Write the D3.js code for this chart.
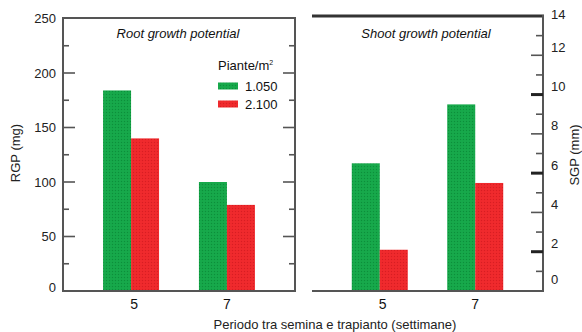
<!DOCTYPE html>
<html>
<head>
<meta charset="utf-8">
<script src="https://cdn.jsdelivr.net/npm/d3@7"></script>
<style>
  html, body { margin: 0; padding: 0; background: #fff; }
  svg { display: block; font-family: "Liberation Sans", Arial, sans-serif; }
</style>
</head>
<body>
<svg id="chart" width="582" height="332"></svg>
<script>
// ---- data ----
const categories = ["5", "7"];
const seriesNames = ["1.050", "2.100"];
const rgp1050 = [184, 100];
const rgp2100 = [140, 79];
const sgp1050 = [6.5, 9.5];
const sgp2100 = [2.1, 5.5];
const rgpTicks = [0, 50, 100, 150, 200, 250];
const sgpTicks = [0, 2, 4, 6, 8, 10, 12, 14];

const frameColor = "#555";

const svg = d3.select("#chart");

// patterns for dotted fill
const defs = svg.append("defs");
function pat(id, base, dot) {
  const p = defs.append("pattern").attr("id", id).attr("patternUnits", "userSpaceOnUse")
    .attr("width", 3).attr("height", 3);
  p.append("rect").attr("width", 3).attr("height", 3).attr("fill", base);
  p.append("circle").attr("cx", 1.5).attr("cy", 1.5).attr("r", 0.7).attr("fill", dot);
}
pat("pg", "#17a94b", "#0c8f3a");
pat("pr", "#f02a2d", "#d81d22");
const fills = { "1.050": "url(#pg)", "2.100": "url(#pr)" };

// ---- layout ----
const L = { x0: 63, x1: 295 };
const R = { x0: 312, x1: 543 };
const yTop = 18, yBot = 291;

const yL = d3.scaleLinear().domain([0, 250]).range([yBot, 18.5]);
const yR = d3.scaleLinear().domain([0, 14]).range([yBot, 16]);

const xL = d3.scalePoint().domain(categories).range([L.x0, L.x1]).padding(0.71);
const xR = d3.scalePoint().domain(categories).range([R.x0, R.x1]).padding(0.71);
const barW = 28;
const xSub = d3.scaleBand().domain(seriesNames).range([-barW, barW]);

function drawBars(x, y, s1, s2) {
  const rows = [];
  categories.forEach((c, i) => {
    rows.push({ c, s: seriesNames[0], v: s1[i] });
    rows.push({ c, s: seriesNames[1], v: s2[i] });
  });
  svg.append("g").selectAll("rect").data(rows).join("rect")
    .attr("x", d => x(d.c) + xSub(d.s))
    .attr("width", xSub.bandwidth())
    .attr("y", d => y(d.v))
    .attr("height", d => y.range()[0] - y(d.v))
    .attr("fill", d => fills[d.s]);
}

drawBars(xL, yL, rgp1050, rgp2100);
drawBars(xR, yR, sgp1050, sgp2100);

// ---- left panel frame & axes ----
svg.append("rect").attr("x", L.x0).attr("y", yTop).attr("width", L.x1 - L.x0).attr("height", yBot - yTop)
  .attr("fill", "none").attr("stroke", frameColor).attr("stroke-width", 2);

const minorL = d3.range(25, 250, 50);
function ticksGroup(xPos, dir, vals, len, y, w) {
  svg.append("g").selectAll("line").data(vals).join("line")
    .attr("x1", xPos).attr("x2", xPos + dir * len)
    .attr("y1", d => y(d)).attr("y2", d => y(d))
    .attr("stroke", frameColor).attr("stroke-width", w || 1.6);
}
ticksGroup(L.x0, 1, [50, 100, 150, 200], 12, yL);
ticksGroup(L.x0, 1, minorL, 6, yL);
ticksGroup(L.x1, -1, [50, 100, 150, 200], 12, yL);
ticksGroup(L.x1, -1, minorL, 6, yL);

svg.append("g").selectAll("text").data(rgpTicks).join("text")
  .attr("x", 56).attr("y", d => yL(d) + (d === 0 ? -4 : 0)).attr("dy", "0.35em")
  .attr("text-anchor", "end").attr("font-size", 13).attr("fill", "#222")
  .text(d => d);

// ---- right panel frame & axis ----
svg.append("line").attr("x1", R.x0).attr("x2", R.x1 + 1).attr("y1", 16).attr("y2", 16)
  .attr("stroke", "#333").attr("stroke-width", 3);
svg.append("line").attr("x1", R.x0).attr("x2", R.x1).attr("y1", yBot).attr("y2", yBot)
  .attr("stroke", frameColor).attr("stroke-width", 2);
svg.append("line").attr("x1", R.x1).attr("x2", R.x1).attr("y1", 15).attr("y2", yBot + 1)
  .attr("stroke", frameColor).attr("stroke-width", 2);

const rTicks = d3.range(1, 14);
svg.append("g").selectAll("line").data(rTicks).join("line")
  .attr("x1", R.x1).attr("x2", d => R.x1 - (d % 2 === 1 ? 7 : 12))
  .attr("y1", d => yR(d)).attr("y2", d => yR(d))
  .attr("stroke", d => (d % 4 === 2 ? "#222" : frameColor))
  .attr("stroke-width", d => (d % 4 === 2 ? 3 : 1.6));

svg.append("g").selectAll("text").data(sgpTicks).join("text")
  .attr("x", 551).attr("y", d => yR(d) - (d === 0 ? 12 : d === 14 ? 2 : 8)).attr("dy", "0.35em")
  .attr("text-anchor", "start").attr("font-size", 13).attr("fill", "#222")
  .text(d => d);

// ---- x tick labels ----
[xL, xR].forEach(x => {
  svg.append("g").selectAll("text").data(categories).join("text")
    .attr("x", d => x(d) + (d === "5" ? 3 : 0)).attr("y", 304).attr("dy", "0.35em")
    .attr("text-anchor", "middle").attr("font-size", 14).attr("fill", "#111")
    .text(d => d);
});

// ---- titles ----
svg.append("text").attr("x", 178).attr("y", 33).attr("dy", "0.35em").attr("text-anchor", "middle")
  .attr("font-size", 13).attr("font-style", "italic").attr("fill", "#111").text("Root growth potential");
svg.append("text").attr("x", 426).attr("y", 33).attr("dy", "0.35em").attr("text-anchor", "middle")
  .attr("font-size", 13).attr("font-style", "italic").attr("fill", "#111").text("Shoot growth potential");

svg.append("text").attr("x", 335).attr("y", 324).attr("dy", "0.35em").attr("text-anchor", "middle")
  .attr("font-size", 13).attr("fill", "#222").text("Periodo tra semina e trapianto (settimane)");

svg.append("text").attr("transform", "translate(15,153) rotate(-90)").attr("dy", "0.35em")
  .attr("text-anchor", "middle").attr("font-size", 13).attr("fill", "#222").text("RGP (mg)");
svg.append("text").attr("transform", "translate(574,155) rotate(-90)").attr("dy", "0.35em")
  .attr("text-anchor", "middle").attr("font-size", 13).attr("fill", "#222").text("SGP (mm)");

// ---- legend ----
const lg = svg.append("g");
lg.append("text").attr("x", 218).attr("y", 65).attr("dy", "0.35em").attr("font-size", 13).attr("fill", "#111")
  .text("Piante/m").append("tspan").attr("font-size", 7).attr("dy", "-0.7em").text("2");
seriesNames.forEach((s, i) => {
  const yy = 86 + i * 18;
  lg.append("rect").attr("x", 218).attr("y", yy - 3.5).attr("width", 20).attr("height", 7).attr("fill", fills[s]);
  lg.append("text").attr("x", 245).attr("y", yy).attr("dy", "0.35em").attr("font-size", 13).attr("fill", "#111").text(s);
});
</script>
</body>
</html>
